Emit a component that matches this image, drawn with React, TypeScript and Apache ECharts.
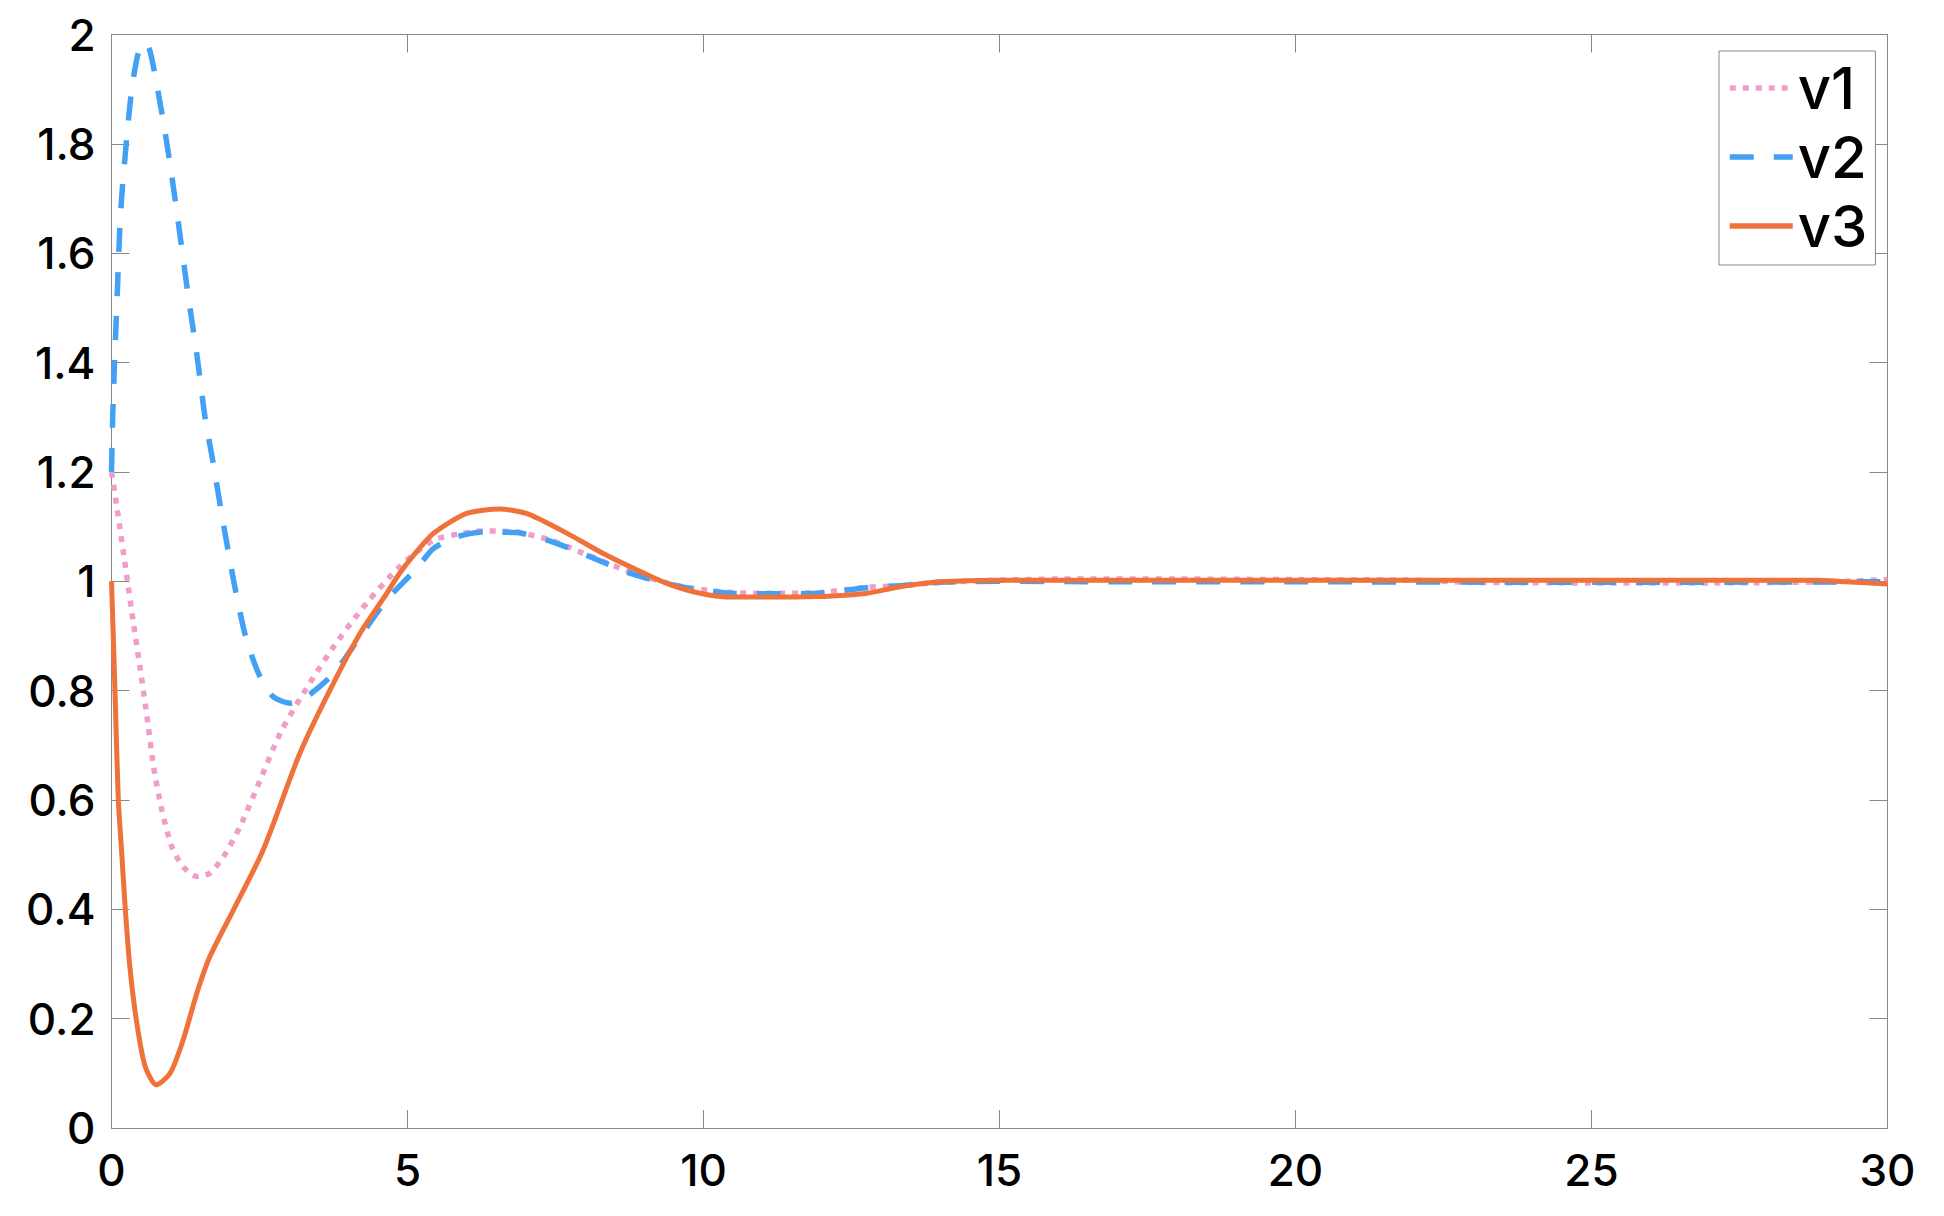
import React, { useEffect, useRef } from "react";
import * as echarts from "echarts";

const xTicks = [0, 5, 10, 15, 20, 25, 30];
const yTicks = [0, 0.2, 0.4, 0.6, 0.8, 1, 1.2, 1.4, 1.6, 1.8, 2];

const seriesNames = ["v1", "v2", "v3"];

const tV1 = [0, 0.09, 0.26, 0.37, 0.48, 0.6, 0.71, 0.85, 1.02, 1.21, 1.44, 1.66, 1.89, 2.17, 2.51, 2.85, 3.24, 3.75, 4.31, 4.87, 5.44, 5.9, 6.28, 6.84, 7.42, 7.97, 8.81, 9.66, 10.5, 11.2, 11.91, 12.76, 13.32, 14, 15, 16, 18, 20, 22, 23, 25, 27, 29, 30];
const v1 = [1.2, 1.136, 1.008, 0.923, 0.844, 0.752, 0.661, 0.582, 0.514, 0.478, 0.46, 0.466, 0.496, 0.551, 0.636, 0.722, 0.795, 0.88, 0.96, 1.027, 1.075, 1.087, 1.092, 1.09, 1.075, 1.051, 1.015, 0.99, 0.979, 0.978, 0.979, 0.989, 0.992, 0.998, 1.002, 1.004, 1.004, 1.003, 1.002, 0.998, 0.997, 0.997, 0.999, 1.003];

const tV2 = [0, 0.02, 0.048, 0.088, 0.144, 0.19, 0.26, 0.34, 0.45, 0.566, 0.65, 0.76, 0.9, 1.02, 1.13, 1.298, 1.439, 1.58, 1.72, 1.85, 1.98, 2.11, 2.28, 2.51, 2.73, 3.02, 3.3, 3.75, 4.2, 4.65, 5.16, 5.44, 5.83, 6.3, 6.84, 7.42, 7.97, 8.81, 9.66, 10.5, 11.2, 11.91, 12.76, 13.32, 14, 15, 17, 20, 25, 30];
const v2 = [1.2, 1.3, 1.392, 1.5, 1.655, 1.728, 1.813, 1.898, 1.965, 1.986, 1.97, 1.911, 1.825, 1.74, 1.655, 1.52, 1.417, 1.3, 1.215, 1.13, 1.05, 0.975, 0.893, 0.825, 0.789, 0.777, 0.789, 0.831, 0.899, 0.966, 1.024, 1.06, 1.081, 1.09, 1.089, 1.073, 1.05, 1.013, 0.989, 0.978, 0.977, 0.978, 0.988, 0.992, 0.998, 1.0, 0.999, 0.999, 0.998, 0.999];

const tV3 = [0, 0.03, 0.06, 0.115, 0.17, 0.23, 0.31, 0.43, 0.57, 0.76, 0.99, 1.21, 1.44, 1.66, 2.06, 2.56, 3.18, 3.69, 4.2, 4.65, 4.87, 5.16, 5.44, 6.0, 6.56, 7.01, 7.69, 8.25, 8.81, 9.38, 9.94, 10.5, 11.2, 11.91, 12.47, 12.76, 13.32, 13.99, 15, 16, 18, 20, 22, 24, 26, 28, 28.8, 29.3, 30];
const v3 = [1.0, 0.9, 0.795, 0.6, 0.508, 0.405, 0.295, 0.19, 0.112, 0.079, 0.1, 0.161, 0.246, 0.313, 0.399, 0.508, 0.685, 0.801, 0.905, 0.978, 1.015, 1.055, 1.088, 1.124, 1.132, 1.124, 1.088, 1.054, 1.024, 0.996, 0.978, 0.971, 0.971, 0.972, 0.975, 0.978, 0.99, 0.999, 1.002, 1.002, 1.002, 1.002, 1.002, 1.002, 1.002, 1.002, 1.002, 0.999, 0.995];

const colors = ["#F09EC9", "#42A0F5", "#EE7239"];

const pair = (t: number[], v: number[]) => t.map((x, i) => [x, v[i]]);

const FONT = "Inter, 'Liberation Sans', Arial, sans-serif";
const AXIS_COLOR = "#888888";

export default function App() {
  const ref = useRef<HTMLDivElement>(null);

  useEffect(() => {
    if (!ref.current) return;
    const chart = echarts.init(ref.current, undefined, { renderer: "svg" });

    const baseX = {
      type: "value" as const,
      min: 0,
      max: 30,
      interval: 5,
      splitLine: { show: false },
      axisLine: { show: true, onZero: false, lineStyle: { color: AXIS_COLOR, width: 1 } },
      axisTick: { show: true, inside: true, length: 18, lineStyle: { color: AXIS_COLOR, width: 1 } },
    };
    const baseY = {
      type: "value" as const,
      min: 0,
      max: 2,
      interval: 0.2,
      splitLine: { show: false },
      axisLine: { show: true, onZero: false, lineStyle: { color: AXIS_COLOR, width: 1 } },
      axisTick: { show: true, inside: true, length: 18, lineStyle: { color: AXIS_COLOR, width: 1 } },
    };

    const dataSets = [pair(tV1, v1), pair(tV2, v2), pair(tV3, v3)];
    const lineTypes: any[] = [[6, 7], [24, 20], "solid"];
    const widths = [5.5, 5.5, 5];

    chart.setOption({
      animation: false,
      backgroundColor: "#ffffff",
      grid: { left: 111.5, top: 34.5, right: 56.5, bottom: 88, containLabel: false },
      xAxis: [
        {
          ...baseX,
          position: "bottom",
          axisLabel: {
            show: true,
            margin: 20,
            color: "#000000",
            fontSize: 44,
            fontWeight: 500,
            fontFamily: FONT,
            formatter: (v: number) => (xTicks.includes(v) ? String(v) : ""),
          },
        },
        { ...baseX, position: "top", axisLabel: { show: false } },
      ],
      yAxis: [
        {
          ...baseY,
          position: "left",
          axisLabel: {
            show: true,
            margin: 16,
            color: "#000000",
            fontSize: 44,
            fontWeight: 500,
            fontFamily: FONT,
            formatter: (v: number) => {
              const r = Math.round(v * 10) / 10;
              return yTicks.includes(r) ? String(r) : "";
            },
          },
        },
        { ...baseY, position: "right", axisLabel: { show: false } },
      ],
      legend: {
        show: true,
        orient: "vertical",
        left: 1719,
        top: 51,
        padding: [8, 8, 10, 8],
        itemWidth: 63,
        itemHeight: 14,
        itemGap: 11,
        backgroundColor: "#ffffff",
        borderColor: AXIS_COLOR,
        borderWidth: 1,
        borderRadius: 0,
        itemStyle: { opacity: 0 },
        lineStyle: { width: 5.5 },
        textStyle: { fontSize: 58, fontWeight: 500, color: "#000000", fontFamily: FONT },
        data: seriesNames,
      },
      series: seriesNames.map((name, i) => ({
        name,
        type: "line",
        data: dataSets[i],
        xAxisIndex: 0,
        yAxisIndex: 0,
        showSymbol: false,
        symbol: "none",
        smooth: 0.25,
        color: colors[i],
        lineStyle: { color: colors[i], width: widths[i], type: lineTypes[i], cap: "butt" },
        z: 2 + i,
      })),
    });

    return () => chart.dispose();
  }, []);

  return (
    <div
      ref={ref}
      style={{ position: "fixed", left: 0, top: 0, width: 1944, height: 1216, background: "#fff" }}
    />
  );
}
